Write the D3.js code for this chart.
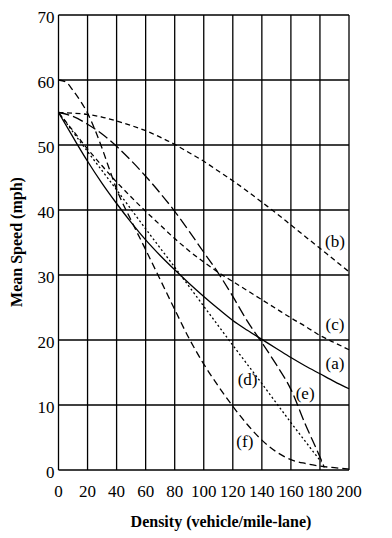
<!DOCTYPE html>
<html><head><meta charset="utf-8">
<script src="https://cdn.jsdelivr.net/npm/d3@7"></script>
<style>
body{margin:0;background:#fff}
svg text{font-family:"Liberation Serif","Times New Roman",Times,serif;fill:#000}
</style>
</head><body>
<svg id="chart" width="392" height="538" font-family="Liberation Serif, Times New Roman, serif"></svg>
<script>
// ---- data ----
const xTicks = [0,20,40,60,80,100,120,140,160,180,200];
const yTicks = [0,10,20,30,40,50,60,70];

const densityStep10 = [0,10,20,30,40,50,60,70,80,90,100,110,120,130,140,150,160,170,180,190,200];
const speedA = [55,51.2,47.5,44.1,41.0,38.1,35.4,33.0,30.8,28.7,26.7,24.8,23.0,21.5,20.1,18.7,17.3,16.0,14.8,13.6,12.5];
const speedB = [55,54.9,54.7,54.3,53.7,53.0,52.2,51.2,50.1,48.8,47.5,46.0,44.5,42.9,41.2,39.5,37.7,35.9,34.1,32.3,30.5];
const speedC = [55,52.2,49.4,46.8,44.3,42.0,39.8,37.7,35.6,33.7,32.0,30.4,29.0,27.6,26.2,24.8,23.4,22.1,20.7,19.6,18.5];

const densityD = [0,20,40,60,80,100,120,140,160,181];
const speedD   = [55,49.0,43.1,37.1,31.2,25.2,19.2,13.3,7.3,1.2];

const densityE = [0,10,20,30,40,50,60,70,80,90,100,110,120,130,140,150,160,170,180,183];
const speedE   = [55,54.4,53.2,51.7,49.8,47.6,45.2,42.6,39.8,36.7,33.5,30.3,26.7,22.9,19.6,16.2,12.4,7.0,2.0,0.4];

const densityF = [0,5,10,15,20,25,30,35,40,50,60,70,80,90,100,110,120,130,140,150,160,170,180,190,200];
const speedF   = [60,59.7,58.4,56.8,54.9,52.4,49.5,46.3,43.2,38.4,33.9,29.3,24.7,20.2,16.3,12.9,9.8,7.0,4.6,2.8,1.6,1.0,0.6,0.35,0.15];

const curveLabels = ["(a)","(b)","(c)","(d)","(e)","(f)"];
const labelAt = [[190.3,16.5],[190.3,35.2],[190.3,22.5],[130.2,14.0],[169.8,11.9],[128.3,4.45]]; // data coords of label centres

// ---- layout ----
const svg = d3.select("#chart");
const x = d3.scaleLinear().domain([0,200]).range([58.5,349]);
const y = d3.scaleLinear().domain([0,70]).range([470,15]);

// grid
const g = svg.append("g");
g.selectAll("line.v").data(xTicks).join("line")
  .attr("x1",d=>x(d)).attr("x2",d=>x(d)).attr("y1",y(0)).attr("y2",y(70))
  .attr("stroke","#000").attr("stroke-width",1.3);
g.selectAll("line.h").data(yTicks).join("line")
  .attr("x1",x(0)).attr("x2",x(200)).attr("y1",d=>y(d)).attr("y2",d=>y(d))
  .attr("stroke","#000").attr("stroke-width",1.3);

// tick labels
svg.append("g").selectAll("text").data(yTicks).join("text")
  .attr("x",x(0)-4).attr("y",d=>y(d)+8)
  .attr("text-anchor","end").attr("font-size",17).text(d=>d);
svg.append("g").selectAll("text").data(xTicks).join("text")
  .attr("x",d=>x(d)).attr("y",497)
  .attr("text-anchor","middle").attr("font-size",17).text(d=>d);

// axis titles
svg.append("text").attr("x",221).attr("y",527).attr("text-anchor","middle")
  .attr("font-size",16).attr("font-weight","bold").text("Density (vehicle/mile-lane)");
svg.append("text").attr("transform","translate(22,242) rotate(-90)").attr("text-anchor","middle")
  .attr("font-size",16).attr("font-weight","bold").text("Mean Speed (mph)");

// curves
const series = [
  {k:densityStep10, v:speedA, dash:null},
  {k:densityStep10, v:speedB, dash:"5,3.5"},
  {k:densityStep10, v:speedC, dash:"5,3.5"},
  {k:densityD, v:speedD, dash:"2,2.5"},
  {k:densityE, v:speedE, dash:"11,4"},
  {k:densityF, v:speedF, dash:"7,4"}
];
const line = d3.line().x(d=>x(d[0])).y(d=>y(d[1])).curve(d3.curveMonotoneX);
series.forEach(s=>{
  const pts = s.k.map((k,i)=>[k,s.v[i]]);
  svg.append("path").attr("d",line(pts)).attr("fill","none")
    .attr("stroke","#000").attr("stroke-width",1.3)
    .attr("stroke-dasharray",s.dash);
});

// curve labels
svg.append("g").selectAll("text").data(curveLabels).join("text")
  .attr("x",(d,i)=>x(labelAt[i][0])).attr("y",(d,i)=>y(labelAt[i][1])+6)
  .attr("text-anchor","middle").attr("font-size",17).text(d=>d);
</script>
</body></html>
